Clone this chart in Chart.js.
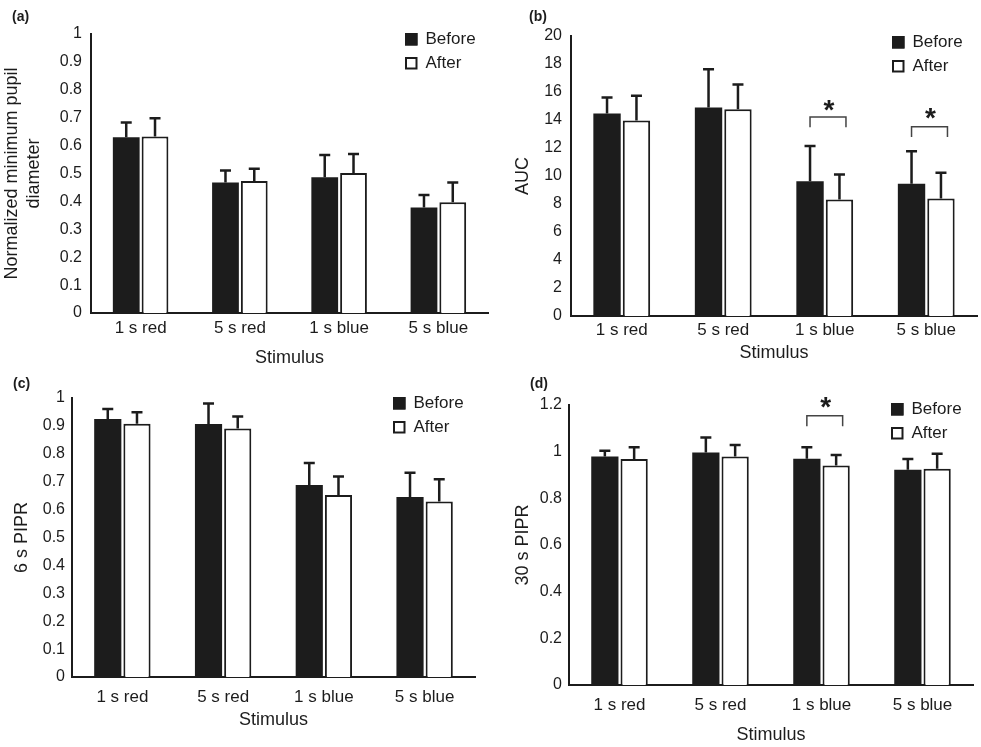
<!DOCTYPE html>
<html>
<head>
<meta charset="utf-8">
<title>Pupil responses before and after</title>
<script src="https://cdn.jsdelivr.net/npm/chart.js@4.4.1/dist/chart.umd.min.js"></script>
<style>
    body { margin: 0; background: #fff; }
    #wrap { position: relative; width: 981px; height: 747px; }
    canvas { position: absolute; }
    .tag { position: absolute; font: bold 14px "Liberation Sans", Arial, sans-serif; color: #1c1c1c; }
</style>
</head>
<body>
<div id="wrap">
    <canvas id="chartA" width="490" height="370" style="left:0;top:0"></canvas>
    <canvas id="chartB" width="491" height="370" style="left:490px;top:0"></canvas>
    <canvas id="chartC" width="490" height="377" style="left:0;top:370px"></canvas>
    <canvas id="chartD" width="491" height="377" style="left:490px;top:370px"></canvas>
    <div class="tag" style="left:12px;top:8px">(a)</div>
    <div class="tag" style="left:529px;top:8px">(b)</div>
    <div class="tag" style="left:13px;top:375px">(c)</div>
    <div class="tag" style="left:530px;top:375px">(d)</div>
</div>
<script>
// datos
const categories = ['1 s red', '5 s red', '1 s blue', '5 s blue'];

// (a) minimo diametro pupilar normalizado
const minPupilBefore = [0.630, 0.468, 0.487, 0.378];
const minPupilBeforeSd = [0.053, 0.043, 0.079, 0.045];
const minPupilAfter = [0.633, 0.473, 0.502, 0.397];
const minPupilAfterSd = [0.065, 0.044, 0.068, 0.071];

// (b) AUC
const aucBefore = [14.46, 14.89, 9.63, 9.44];
const aucBeforeSd = [1.14, 2.73, 2.52, 2.33];
const aucAfter = [13.96, 14.77, 8.32, 8.39];
const aucAfterSd = [1.78, 1.76, 1.78, 1.84];
// corchetes de significancia: categoria, linea superior, fin de patas, asterisco
const aucSig = [
    { cat: 2, top: 14.22, leg: 13.48, star: 15.05 },
    { cat: 3, top: 13.51, leg: 12.79, star: 14.46 }
];

// (c) 6 s PIPR
const pipr6Before = [0.925, 0.907, 0.688, 0.645];
const pipr6BeforeSd = [0.036, 0.073, 0.079, 0.087];
const pipr6After = [0.908, 0.891, 0.652, 0.629];
const pipr6AfterSd = [0.041, 0.043, 0.067, 0.080];

// (d) 30 s PIPR
const pipr30Before = [0.979, 0.996, 0.970, 0.923];
const pipr30BeforeSd = [0.025, 0.065, 0.049, 0.046];
const pipr30After = [0.969, 0.979, 0.941, 0.927];
const pipr30AfterSd = [0.050, 0.050, 0.045, 0.064];
const pipr30Sig = [
    { cat: 2, top: 1.154, leg: 1.109, star: 1.209 }
];

const ink = '#1c1c1c';
const fontFamily = '"Liberation Sans", Arial, sans-serif';
Chart.defaults.font.family = fontFamily;
Chart.defaults.color = ink;

// barras de error, corchetes y leyenda
const extras = {
    id: 'extras',
    afterDatasetsDraw(chart, args, opts) {
        const ctx = chart.ctx;
        const yScale = chart.scales.y;
        ctx.save();
        ctx.strokeStyle = ink;
        ctx.lineWidth = 2.5;
        chart.data.datasets.forEach((ds, i) => {
            chart.getDatasetMeta(i).data.forEach((bar, j) => {
                const top = yScale.getPixelForValue(ds.data[j] + ds.sd[j]);
                ctx.beginPath();
                ctx.moveTo(bar.x, bar.y);
                ctx.lineTo(bar.x, top);
                ctx.moveTo(bar.x - 5.5, top);
                ctx.lineTo(bar.x + 5.5, top);
                ctx.stroke();
            });
        });

        (opts.sig || []).forEach(s => {
            const b0 = chart.getDatasetMeta(0).data[s.cat];
            const b1 = chart.getDatasetMeta(1).data[s.cat];
            const x1 = b0.x;
            const x2 = b1.x + 6.5;
            const yTop = yScale.getPixelForValue(s.top);
            const yLeg = yScale.getPixelForValue(s.leg);
            ctx.strokeStyle = '#444';
            ctx.lineWidth = 1.5;
            ctx.beginPath();
            ctx.moveTo(x1, yLeg);
            ctx.lineTo(x1, yTop);
            ctx.lineTo(x2, yTop);
            ctx.lineTo(x2, yLeg);
            ctx.stroke();

            ctx.fillStyle = ink;
            ctx.font = 'bold 28px ' + fontFamily;
            ctx.textAlign = 'center';
            ctx.textBaseline = 'alphabetic';
            const m = ctx.measureText('*');
            const cy = yScale.getPixelForValue(s.star);
            ctx.fillText('*', (x1 + x2) / 2 + 1, cy - (m.actualBoundingBoxDescent - m.actualBoundingBoxAscent) / 2);
        });
        ctx.restore();
    },
    afterDraw(chart, args, opts) {
        const ctx = chart.ctx;
        const area = chart.chartArea;
        ctx.save();
        chart.data.datasets.forEach((ds, i) => {
            const x = area.right + opts.dx;
            const y = area.top + opts.dy + i * 24;
            ctx.fillStyle = ds.backgroundColor;
            ctx.fillRect(x, y, 12.5, 12.5);
            ctx.strokeStyle = ink;
            ctx.lineWidth = 2;
            ctx.strokeRect(x + 1, y + 1, 10.5, 10.5);
            ctx.fillStyle = ink;
            ctx.font = '17px ' + fontFamily;
            ctx.textAlign = 'left';
            ctx.textBaseline = 'middle';
            ctx.fillText(ds.label, x + 20.5, y + 6.5);
        });
        ctx.restore();
    }
};

function makeChart(id, p) {
    const ctx = document.getElementById(id).getContext('2d');
    return new Chart(ctx, {
        type: 'bar',
        data: {
            labels: categories,
            datasets: [
                {
                    label: 'Before',
                    data: p.before,
                    sd: p.beforeSd,
                    backgroundColor: ink,
                    borderColor: ink,
                    borderWidth: 0,
                    categoryPercentage: 0.58,
                    barPercentage: 0.93
                },
                {
                    label: 'After',
                    data: p.after,
                    sd: p.afterSd,
                    backgroundColor: '#ffffff',
                    borderColor: ink,
                    borderWidth: 2,
                    categoryPercentage: 0.58,
                    barPercentage: 0.93
                }
            ]
        },
        options: {
            responsive: false,
            animation: false,
            events: [],
            layout: { padding: { top: p.padTop, right: p.padRight, left: 0, bottom: 0 } },
            plugins: {
                legend: { display: false },
                tooltip: { enabled: false },
                extras: { sig: p.sig, dx: p.legendDx, dy: p.legendDy }
            },
            scales: {
                x: {
                    grid: { display: false, drawTicks: false },
                    border: { color: ink, width: 2 },
                    ticks: { color: ink, font: { size: 17 }, padding: p.xTickPad, maxRotation: 0 },
                    title: {
                        display: true,
                        text: 'Stimulus',
                        color: ink,
                        font: { size: 18 },
                        padding: { top: 0, bottom: p.xTitlePad }
                    },
                    afterFit: s => { s.height = p.xHeight; }
                },
                y: {
                    min: 0,
                    max: p.yMax,
                    grid: { display: false, drawTicks: false },
                    border: { color: ink, width: 2 },
                    ticks: {
                        stepSize: p.yStep,
                        color: ink,
                        font: { size: 16 },
                        padding: p.yTickPad,
                        callback: v => Number(v.toFixed(2)).toString()
                    },
                    title: {
                        display: true,
                        text: p.yTitle,
                        color: ink,
                        font: { size: 18, lineHeight: 1.22 },
                        padding: { top: p.yTitlePad, bottom: 0 }
                    },
                    afterFit: s => { s.width = p.yWidth; }
                }
            }
        },
        plugins: [extras]
    });
}

makeChart('chartA', {
    before: minPupilBefore, beforeSd: minPupilBeforeSd,
    after: minPupilAfter, afterSd: minPupilAfterSd,
    yMax: 1, yStep: 0.1,
    yTitle: ['Normalized minimum pupil', 'diameter'], yTitlePad: 1.5,
    yWidth: 91, yTickPad: 9, padTop: 34, padRight: 2,
    xHeight: 57, xTickPad: 5, xTitlePad: 1,
    legendDx: -83, legendDy: -1
});

makeChart('chartB', {
    before: aucBefore, beforeSd: aucBeforeSd,
    after: aucAfter, afterSd: aucAfterSd,
    yMax: 20, yStep: 2,
    yTitle: 'AUC', yTitlePad: 22,
    yWidth: 81, yTickPad: 9, padTop: 36, padRight: 4,
    xHeight: 54, xTickPad: 4, xTitlePad: 6,
    legendDx: -85, legendDy: 0,
    sig: aucSig
});

makeChart('chartC', {
    before: pipr6Before, beforeSd: pipr6BeforeSd,
    after: pipr6After, afterSd: pipr6AfterSd,
    yMax: 1, yStep: 0.1,
    yTitle: '6 s PIPR', yTitlePad: 11,
    yWidth: 72, yTickPad: 7, padTop: 28, padRight: 15,
    xHeight: 70, xTickPad: 10, xTitlePad: 16,
    legendDx: -82, legendDy: -1
});

makeChart('chartD', {
    before: pipr30Before, beforeSd: pipr30BeforeSd,
    after: pipr30After, afterSd: pipr30AfterSd,
    yMax: 1.2, yStep: 0.2,
    yTitle: '30 s PIPR', yTitlePad: 22,
    yWidth: 79, yTickPad: 7, padTop: 35, padRight: 8,
    xHeight: 62, xTickPad: 10, xTitlePad: 1,
    legendDx: -82, legendDy: -2,
    sig: pipr30Sig
});
</script>
</body>
</html>
